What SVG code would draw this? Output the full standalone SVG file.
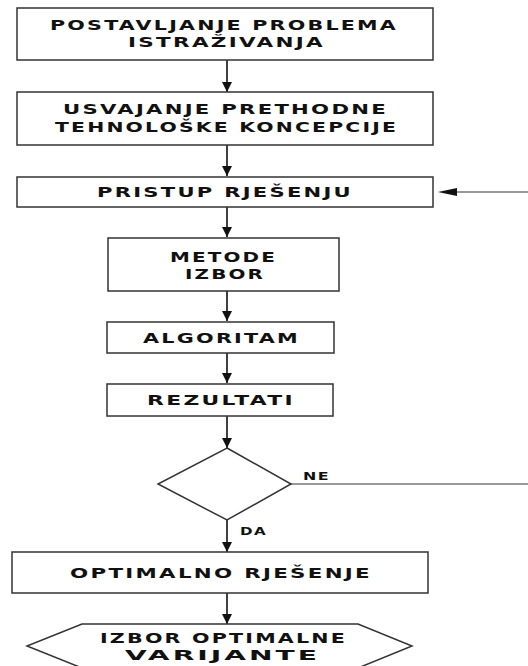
<svg xmlns="http://www.w3.org/2000/svg" width="528" height="666" viewBox="0 0 528 666">
<defs>
<marker id="ah" markerWidth="10" markerHeight="10" refX="10" refY="5" orient="auto" markerUnits="userSpaceOnUse">
<path d="M0,0 L10,5 L0,10 Z" fill="#111"/>
</marker>
</defs>
<style>
.box{fill:#fff;stroke:#333;stroke-width:1.5}
.t{font-family:"DejaVu Sans",sans-serif;font-weight:bold;font-size:14px;letter-spacing:1.5px;fill:#111;text-anchor:start}
.s{font-size:11px;letter-spacing:1px}
.c{stroke:#111;stroke-width:1.6;fill:none}
.g{stroke:#777;stroke-width:1.3;fill:none}
</style>
<rect width="528" height="666" fill="#fff"/>
<g id="connectors">
<line class="c" x1="227" y1="60" x2="227" y2="92" marker-end="url(#ah)"/>
<line class="c" x1="227" y1="145" x2="227" y2="176" marker-end="url(#ah)"/>
<line class="c" x1="227" y1="207" x2="227" y2="237" marker-end="url(#ah)"/>
<line class="c" x1="227" y1="291" x2="227" y2="321" marker-end="url(#ah)"/>
<line class="c" x1="227" y1="353" x2="227" y2="383" marker-end="url(#ah)"/>
<line class="c" x1="227" y1="416" x2="227" y2="448" marker-end="url(#ah)"/>
<line class="c" x1="227" y1="520" x2="227" y2="552" marker-end="url(#ah)"/>
<line class="c" x1="227" y1="593" x2="227" y2="624" marker-end="url(#ah)"/>
<line class="g" x1="291" y1="484" x2="528" y2="484"/>
<line class="g" x1="528" y1="192" x2="457" y2="192"/>
<path d="M438,192 L457,188 L457,196 Z" fill="#111"/>
<text class="t s" x="303" y="480" textLength="27" lengthAdjust="spacingAndGlyphs">NE</text>
<text class="t s" x="240" y="535" textLength="27" lengthAdjust="spacingAndGlyphs">DA</text>
</g>
<g id="n1">
<rect class="box" x="17" y="8" width="416" height="52"/>
<text class="t" x="50" y="30" textLength="348" lengthAdjust="spacingAndGlyphs">POSTAVLJANJE PROBLEMA</text>
<text class="t" x="128" y="47" textLength="197" lengthAdjust="spacingAndGlyphs">ISTRAŽIVANJA</text>
</g>
<g id="n2">
<rect class="box" x="17" y="92" width="416" height="53"/>
<text class="t" x="63" y="114" textLength="325" lengthAdjust="spacingAndGlyphs">USVAJANJE PRETHODNE</text>
<text class="t" x="55" y="132" textLength="343" lengthAdjust="spacingAndGlyphs">TEHNOLOŠKE KONCEPCIJE</text>
</g>
<g id="n3">
<rect class="box" x="17" y="177" width="416" height="30"/>
<text class="t" x="97" y="197" textLength="256" lengthAdjust="spacingAndGlyphs">PRISTUP RJEŠENJU</text>
</g>
<g id="n4">
<rect class="box" x="108" y="238" width="231" height="53"/>
<text class="t" x="170" y="262" textLength="107" lengthAdjust="spacingAndGlyphs">METODE</text>
<text class="t" x="185" y="279" textLength="80" lengthAdjust="spacingAndGlyphs">IZBOR</text>
</g>
<g id="n5">
<rect class="box" x="107" y="322" width="227" height="31"/>
<text class="t" x="143" y="343" textLength="157" lengthAdjust="spacingAndGlyphs">ALGORITAM</text>
</g>
<g id="n6">
<rect class="box" x="107" y="384" width="226" height="32"/>
<text class="t" x="147" y="405" textLength="148" lengthAdjust="spacingAndGlyphs">REZULTATI</text>
</g>
<g id="n7">
<polygon class="box" points="227,448 291,484 227,520 158,484"/>
</g>
<g id="n8">
<rect class="box" x="12" y="552" width="416" height="41"/>
<text class="t" x="70" y="578" textLength="302" lengthAdjust="spacingAndGlyphs">OPTIMALNO RJEŠENJE</text>
</g>
<g id="n9">
<polygon class="box" points="82,624 358,624 412,646 358,668 82,668 27,646"/>
<text class="t" x="100" y="643" textLength="247" lengthAdjust="spacingAndGlyphs">IZBOR OPTIMALNE</text>
<text class="t" x="125" y="660" textLength="195" lengthAdjust="spacingAndGlyphs">VARIJANTE</text>
</g>
</svg>
